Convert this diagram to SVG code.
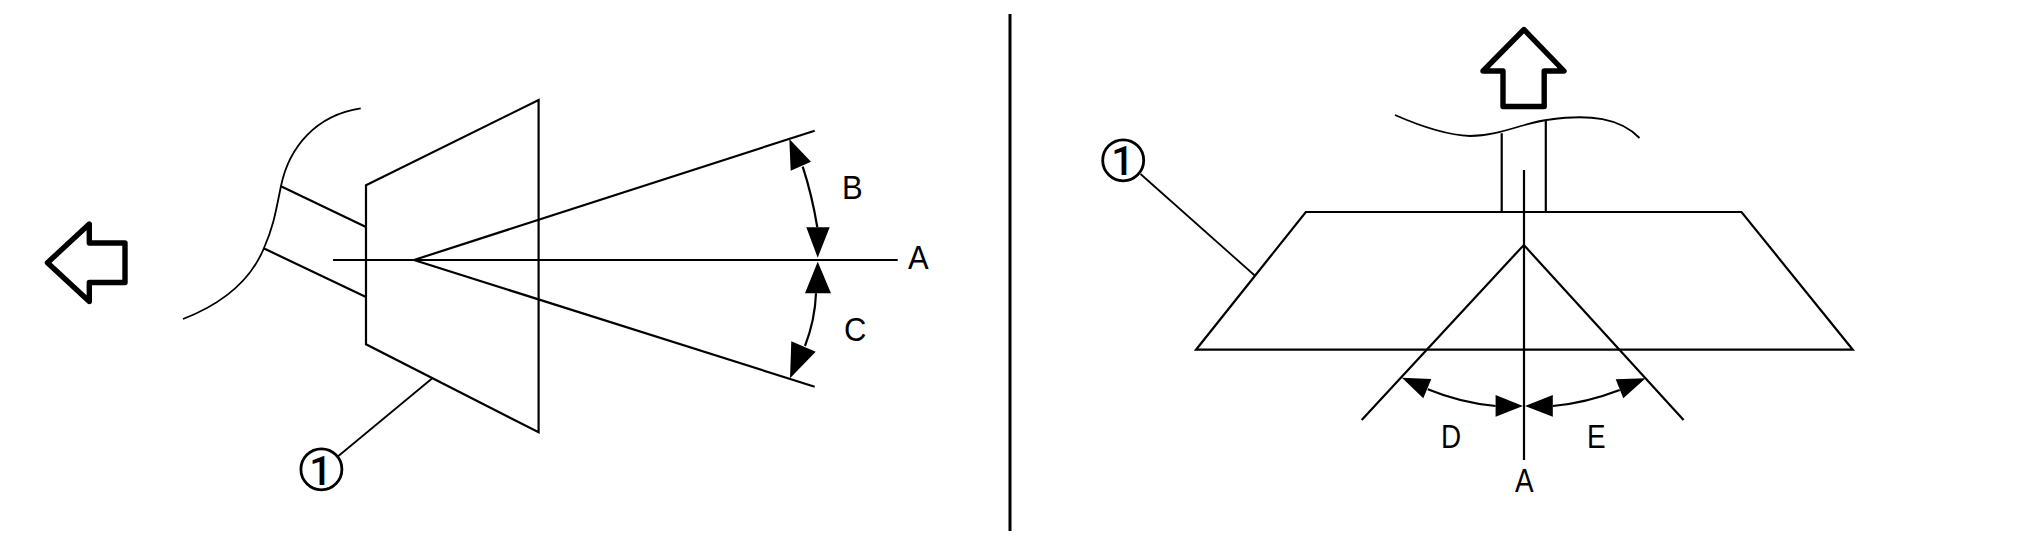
<svg xmlns="http://www.w3.org/2000/svg" width="2020" height="544" viewBox="0 0 2020 544">
<style>
.l{fill:none;stroke:#000;stroke-width:2.2}
.t{fill:none;stroke:#000;stroke-width:1.8}
.b{fill:none;stroke:#000;stroke-width:5.4;stroke-linejoin:round}
.h{fill:#000;stroke:none}
.x{font-family:"Liberation Sans",Arial,sans-serif;font-size:31px;fill:#000}
.n{font-family:Roboto,"Liberation Sans",sans-serif;font-size:40px;font-weight:500;fill:#000;text-anchor:middle}
</style>
<rect width="2020" height="544" fill="#fff"/>
<g id="divider"><line class="l" style="stroke-width:3" x1="1010" y1="14" x2="1010" y2="531"/></g>
<g id="left-view">
<path id="direction-left" class="b" d="M47.5 262.7L89.3 224V243H125V282.5H89.3V301.5Z"/>
<path class="t" d="M360.7 108.3C316 115 289 147 281 186C276 210 274 225 264 248C250 282 222 304 183 319"/>
<path class="l" d="M280.4 186L366 227M263.6 248.3L366 297"/>
<path id="body-left" class="l" d="M366 185.3L538.6 100V432.3L366 344.3Z"/>
<path class="l" d="M333 260H897.7M814.7 130.7L414 260L814.7 386.7"/>
<path class="l" d="M802.7 166.7Q812 195 817.3 227.3M816 293.3Q815 320 805 346"/>
<path class="h" d="M789.3 139L790.7 170.7L811 161.7ZM817.7 257.7L806.3 227.3H829.7ZM817.7 261.7L805 293.3H831ZM790 378.3L791.3 341.3L815.7 351.7Z"/>
<text class="x" transform="translate(908 269) scale(1 1.05)">A</text>
<text class="x" transform="translate(842 199.3) scale(1 1.05)">B</text>
<text class="x" transform="translate(844 340.7) scale(1 1.05)">C</text>
</g>
<g id="callout-left">
<line class="t" x1="432.9" y1="377.7" x2="337.5" y2="456.7"/>
<circle class="l" style="stroke-width:2.8" cx="321.4" cy="469.3" r="20.5"/>
<text class="n" x="320.5" y="484.5">1</text>
</g>
<g id="right-view">
<path id="direction-up" class="b" d="M1524 29.5L1564 71H1544.2V106.5H1503V71H1483Z"/>
<path class="t" d="M1395 115C1420 126 1445 135 1470 136C1500 136 1525 122 1550 119.5C1590 114 1620 118 1639.5 138"/>
<path class="l" d="M1501.7 133.3V211.7M1545.8 120V211.7"/>
<path id="body-right" class="l" d="M1305.8 212H1741.5L1852.8 349.7H1196Z"/>
<path class="l" d="M1524 170V460M1361.7 420L1523.8 245L1683.6 420"/>
<path class="l" d="M1427.8 389.3Q1461 403 1495.6 406M1552.8 406Q1586 403 1619.7 390"/>
<path class="h" d="M1401.9 377.7L1431.3 379L1423.3 398.3ZM1522.9 406L1495.6 395V416.7ZM1525 406L1552.8 395V416.7ZM1645.6 378.3L1615.7 379.3L1623.3 398.3Z"/>
<text class="x" transform="translate(1441 448.3) scale(.9 1.05)">D</text>
<text class="x" transform="translate(1587 448) scale(.9 1.05)">E</text>
<text class="x" transform="translate(1515 491.7) scale(.9 1.05)">A</text>
</g>
<g id="callout-right">
<line class="t" x1="1140.5" y1="174" x2="1255.3" y2="276"/>
<circle class="l" style="stroke-width:2.8" cx="1123.2" cy="160.3" r="20.5"/>
<text class="n" x="1122.5" y="175">1</text>
</g>
</svg>
